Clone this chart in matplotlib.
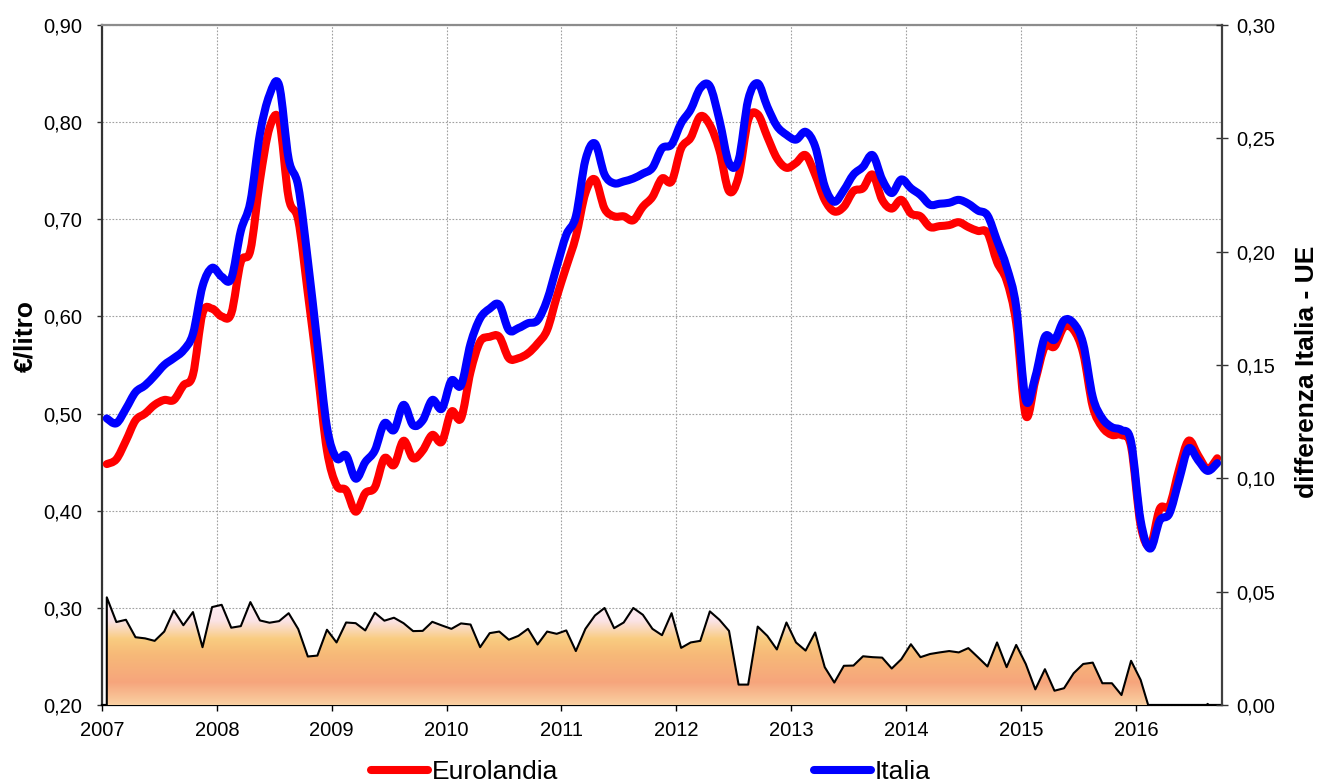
import numpy as np
import pandas as pd
import matplotlib
matplotlib.use("Agg")
import matplotlib.pyplot as plt
from matplotlib.path import Path
from matplotlib.patches import PathPatch
from matplotlib.lines import Line2D
from matplotlib.colors import LinearSegmentedColormap
from matplotlib.ticker import FuncFormatter, MultipleLocator

plt.rcParams['font.family'] = ['Liberation Sans', 'DejaVu Sans']

# monthly series, Jan 2007 - Sep 2016 (euro/litre)
mesi = pd.date_range('2007-01-01', periods=117, freq='MS')

eurolandia = [
    0.448, 0.453, 0.472, 0.493, 0.500, 0.509, 0.514, 0.514, 0.529, 0.540, 0.603, 0.608,
    0.600, 0.603, 0.656, 0.668, 0.740, 0.794, 0.802, 0.722, 0.699, 0.624, 0.545, 0.462,
    0.426, 0.421, 0.399, 0.418, 0.424, 0.454, 0.447, 0.472, 0.454, 0.462, 0.478, 0.471,
    0.502, 0.495, 0.543, 0.574, 0.579, 0.579, 0.557, 0.557, 0.562, 0.572, 0.586, 0.620,
    0.651, 0.682, 0.727, 0.741, 0.711, 0.703, 0.703, 0.699, 0.713, 0.723, 0.742, 0.739,
    0.773, 0.784, 0.806, 0.797, 0.771, 0.729, 0.744, 0.802, 0.808, 0.785, 0.763, 0.753,
    0.758, 0.766, 0.746, 0.720, 0.708, 0.713, 0.729, 0.732, 0.746, 0.720, 0.711, 0.720,
    0.706, 0.703, 0.692, 0.693, 0.694, 0.697, 0.692, 0.688, 0.686, 0.656, 0.637, 0.593,
    0.498, 0.534, 0.569, 0.569, 0.589, 0.586, 0.562, 0.507, 0.486, 0.478, 0.478, 0.466,
    0.385, 0.364, 0.402, 0.405, 0.442, 0.472, 0.457, 0.443, 0.454,
]

italia = [
    0.495, 0.490, 0.505, 0.522, 0.529, 0.539, 0.550, 0.557, 0.565, 0.582, 0.631, 0.650,
    0.641, 0.639, 0.688, 0.718, 0.788, 0.828, 0.838, 0.762, 0.734, 0.658, 0.572, 0.486,
    0.454, 0.457, 0.433, 0.450, 0.462, 0.490, 0.483, 0.509, 0.488, 0.493, 0.514, 0.505,
    0.534, 0.529, 0.572, 0.598, 0.608, 0.612, 0.586, 0.588, 0.593, 0.596, 0.617, 0.651,
    0.684, 0.703, 0.761, 0.778, 0.746, 0.737, 0.739, 0.742, 0.747, 0.753, 0.773, 0.777,
    0.799, 0.813, 0.835, 0.837, 0.802, 0.758, 0.761, 0.823, 0.840, 0.816, 0.796, 0.787,
    0.782, 0.790, 0.775, 0.734, 0.718, 0.730, 0.746, 0.754, 0.766, 0.741, 0.727, 0.741,
    0.732, 0.725, 0.715, 0.716, 0.717, 0.720, 0.716, 0.709, 0.704, 0.678, 0.651, 0.610,
    0.514, 0.538, 0.579, 0.576, 0.596, 0.593, 0.572, 0.517, 0.495, 0.486, 0.483, 0.471,
    0.390, 0.361, 0.390, 0.397, 0.431, 0.464, 0.452, 0.441, 0.449,
]

# differenza Italia - UE (right axis)
differenza = [
    0.0475, 0.0366, 0.0376, 0.0299, 0.0294, 0.0283, 0.0324, 0.0417, 0.0352, 0.0410, 0.0255, 0.0432,
    0.0442, 0.0341, 0.0348, 0.0454, 0.0373, 0.0363, 0.0370, 0.0405, 0.0335, 0.0214, 0.0218, 0.0332,
    0.0276, 0.0364, 0.0361, 0.0329, 0.0407, 0.0372, 0.0385, 0.0361, 0.0326, 0.0327, 0.0367, 0.0351,
    0.0336, 0.0360, 0.0355, 0.0255, 0.0317, 0.0324, 0.0288, 0.0305, 0.0336, 0.0267, 0.0324, 0.0314,
    0.0329, 0.0238, 0.0336, 0.0395, 0.0428, 0.0339, 0.0364, 0.0428, 0.0398, 0.0336, 0.0308, 0.0405,
    0.0252, 0.0276, 0.0283, 0.0413, 0.0376, 0.0327, 0.0090, 0.0090, 0.0346, 0.0305, 0.0245, 0.0364,
    0.0276, 0.0240, 0.0320, 0.0167, 0.0099, 0.0173, 0.0174, 0.0215, 0.0211, 0.0209, 0.0161, 0.0202,
    0.0268, 0.0211, 0.0225, 0.0232, 0.0238, 0.0232, 0.0251, 0.0211, 0.0170, 0.0276, 0.0167, 0.0265,
    0.0181, 0.0069, 0.0158, 0.0063, 0.0074, 0.0140, 0.0181, 0.0187, 0.0096, 0.0096, 0.0044, 0.0195,
    0.0111, -0.003, -0.012, -0.008, -0.011, -0.008, -0.005, 0.0005, -0.005,
]

anni = list(range(2007, 2017))

# month positions in decimal years (mid-month)
x = mesi.year + (mesi.month - 0.5) / 12
x = np.asarray(x, dtype=float)


def smooth_path(xs, ys):
    # catmull-rom through the points, as cubic beziers (Excel-like smoothed line)
    p = np.column_stack([xs, ys])
    pp = np.vstack([p[0], p, p[-1]])
    verts = [p[0]]
    for i in range(len(p) - 1):
        c1 = pp[i + 1] + (pp[i + 2] - pp[i]) / 6
        c2 = pp[i + 2] - (pp[i + 3] - pp[i + 1]) / 6
        verts += [c1, c2, p[i + 1]]
    codes = [Path.MOVETO] + [Path.CURVE4] * (3 * (len(p) - 1))
    return Path(verts, codes)


fig = plt.figure(figsize=(13.2, 7.84), dpi=100)
ax = fig.add_axes([102 / 1320, 79 / 784, 1120 / 1320, 680 / 784])
ax2 = ax.twinx()

# left axis: prices
ax.add_patch(PathPatch(smooth_path(x, eurolandia), fill=False, edgecolor='#FF0000',
                       lw=5.8, capstyle='round', joinstyle='round', zorder=3))
ax.add_patch(PathPatch(smooth_path(x, italia), fill=False, edgecolor='#0000FF',
                       lw=5.8, capstyle='round', joinstyle='round', zorder=4))

ax.set_xlim(2007, 2016.75)
ax.set_ylim(0.20, 0.90)
ax.yaxis.set_major_locator(MultipleLocator(0.1))
ax.set_xticks(anni)
ax.set_xticklabels([str(a) for a in anni])
ax.yaxis.set_major_formatter(FuncFormatter(lambda v, p: f'{v:.2f}'.replace('.', ',')))
ax.grid(True, color='#A0A0A0', linestyle=(0, (1.5, 1.5)), linewidth=0.8)
ax.set_axisbelow(True)

# right axis: difference area with vertical gradient
stops = [(0.0, '#FAD0A2'), (0.2, '#F6A57C'), (0.45, '#F7BA78'), (0.58, '#F9CC80'),
         (0.74, '#FBE3E6'), (0.9, '#FDEFF6'), (1.0, '#FEF6FA')]
cmap = LinearSegmentedColormap.from_list('grad', stops)
grad = np.linspace(0, 0.05, 256).reshape(-1, 1)
im = ax2.imshow(grad, extent=[2007, 2016.75, 0, 0.05], origin='lower', aspect='auto',
                cmap=cmap, vmin=0, vmax=0.05, zorder=1)
area = ax2.fill_between(x, 0, differenza, facecolor='none', edgecolor='none')
im.set_clip_path(area.get_paths()[0], ax2.transData)
ax2.plot(np.r_[x[0], x], np.r_[0, differenza], color='black', lw=1.5, zorder=3)

ax2.set_xlim(2007, 2016.75)
ax2.set_ylim(0, 0.30)
ax2.yaxis.set_major_locator(MultipleLocator(0.05))
ax2.yaxis.set_major_formatter(FuncFormatter(lambda v, p: f'{v:.2f}'.replace('.', ',')))

# spines and ticks
ax.spines['top'].set_color('#8C8C8C')
ax.spines['top'].set_linewidth(1.6)
ax.spines['left'].set_color('#333333')
ax.spines['left'].set_linewidth(1.6)
ax.spines['bottom'].set_color('black')
ax.spines['bottom'].set_linewidth(1.6)
ax.spines['right'].set_visible(False)
for s in ['top', 'left', 'bottom']:
    ax2.spines[s].set_visible(False)
ax2.spines['right'].set_color('#404040')
ax2.spines['right'].set_linewidth(1.6)

ax.tick_params(axis='y', direction='out', length=3.8, width=1, color='#333333',
               labelsize=14.5, pad=10.5)
ax.tick_params(axis='x', direction='out', length=4.3, width=1, color='black',
               labelsize=14.5, pad=7.5)
ax2.tick_params(axis='y', direction='inout', length=8, width=1, color='#333333',
                labelsize=14.5, pad=6)

fig.text(25 / 1320, 1 - 336 / 784, '€/litro', rotation=90, ha='center', va='center',
         fontsize=19, fontweight='bold')
fig.text(1307 / 1320, 1 - 372 / 784, 'differenza Italia - UE', rotation=90,
         ha='center', va='center', fontsize=19, fontweight='bold')

handles = [Line2D([], [], color='#FF0000', lw=5.8, solid_capstyle='round'),
           Line2D([], [], color='#0000FF', lw=5.8, solid_capstyle='round')]
fig.legend(handles, ['Eurolandia', 'Italia'], loc='center left',
           bbox_to_anchor=(371 / 1320, 1 - 772 / 784), ncol=2, frameon=False,
           fontsize=19, handlelength=2.15, handletextpad=0.15, columnspacing=9.7,
           borderpad=0, borderaxespad=0)

fig.savefig('out.png', dpi=100)
